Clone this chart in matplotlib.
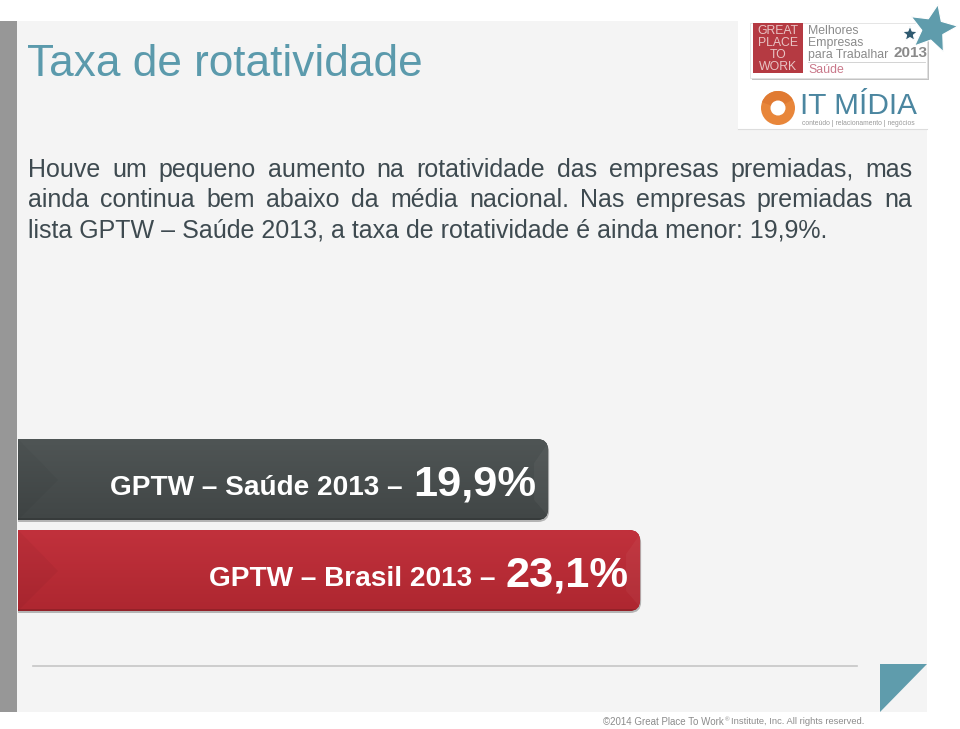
import numpy as np
import matplotlib
matplotlib.use('Agg')
import matplotlib.pyplot as plt
from matplotlib.patches import Rectangle, Polygon, PathPatch, Circle, Wedge
from matplotlib.path import Path

plt.rcParams['font.family'] = ['Liberation Sans', 'DejaVu Sans']

# Dados do gráfico
rotulos = ['GPTW – Saúde 2013 –', 'GPTW – Brasil 2013 –']
valores = [19.9, 23.1]
valores_txt = ['19,9%', '23,1%']
cores_topo = ['#4f5555', '#c1313c']
cores_base = ['#414646', '#ae2730']

titulo = 'Taxa de rotatividade'
linhas = ['Houve um pequeno aumento na rotatividade das empresas premiadas, mas',
          'ainda continua bem abaixo da média nacional. Nas empresas premiadas na',
          'lista GPTW – Saúde 2013, a taxa de rotatividade é ainda menor: 19,9%.']

W, H = 960, 729
fig = plt.figure(figsize=(W / 100, H / 100), dpi=100, facecolor='white')

# Eixo de fundo em pixels
ax = fig.add_axes([0, 0, 1, 1])
ax.set_xlim(0, W)
ax.set_ylim(H, 0)
ax.axis('off')

ax.add_patch(Rectangle((17, 21), 910, 691, fc='#f4f4f4', ec='none'))
ax.add_patch(Rectangle((0, 21), 17, 691, fc='#979797', ec='none'))
ax.plot([33, 857], [665.5, 665.5], color='#c6c6c6', lw=1.2)
ax.add_patch(Polygon([(880, 664), (927, 664), (880, 712)], fc='#5f9cac', ec='none'))

ax.text(27, 64, titulo, fontsize=31.8, color='#5b9aac', va='center', ha='left')

# Texto justificado
fig.canvas.draw()
rend = fig.canvas.get_renderer()


def largura(s, fs):
    t = ax.text(0, 0, s, fontsize=fs)
    w = t.get_window_extent(rend).width
    t.remove()
    return w


fs_corpo = 18
ys = [170, 200, 230]
for i, linha in enumerate(linhas):
    if i < 2:
        palavras = linha.split(' ')
        tam = [largura(p, fs_corpo) for p in palavras]
        gap = (912.5 - 28 - sum(tam)) / (len(palavras) - 1)
        x = 28
        for p, w in zip(palavras, tam):
            ax.text(x, ys[i], p, fontsize=fs_corpo, color='#3e4a50', va='center', ha='left')
            x += w + gap
    else:
        ax.text(28, ys[i], linha, fontsize=fs_corpo, color='#3e4a50', va='center', ha='left')

# Logos
ax.add_patch(Rectangle((738, 19), 222, 110, fc='white', ec='none'))
ax.plot([738, 927], [128.5, 128.5], color='#dddddd', lw=0.8)
ax.add_patch(Rectangle((752, 26), 177, 54, fc='#aaaaaa', ec='none', alpha=0.7))
ax.add_patch(Rectangle((750, 23), 177, 55, fc='white', ec='#e0e0e0', lw=0.6))
ax.add_patch(Rectangle((753, 23), 50, 50, fc='#b53a42', ec='none'))
for txt, yy in zip(['GREAT', 'PLACE', 'TO', 'WORK'], [31, 43, 55, 67]):
    ax.text(778, yy, txt, fontsize=8.8, color='#e8c4c4', ha='center', va='center')
for txt, yy in zip(['Melhores', 'Empresas'], [31, 43]):
    ax.text(808, yy, txt, fontsize=8.8, color='#8a8a8a', ha='left', va='center')
ax.text(808, 55, 'para Trabalhar', fontsize=8.8, color='#8a8a8a', ha='left', va='center')
ax.text(893, 53, '2013', fontsize=11, color='#8a8a8a', ha='left', va='center', fontweight='bold')
ax.text(808, 70, 'Saúde', fontsize=8.8, color='#c9788a', ha='left', va='center')
ax.plot([808, 925], [62, 62], color='#cccccc', lw=0.6)


def estrela(cx, cy, r, cor, rot=0.2):
    ang = np.arange(10) * np.pi / 5 - np.pi / 2 + rot
    raio = np.where(np.arange(10) % 2 == 0, r, r * 0.45)
    return Polygon(np.c_[cx + raio * np.cos(ang), cy + raio * np.sin(ang)], fc=cor, ec='white', lw=0.8)


ax.add_patch(estrela(933, 29, 25, '#5f9cac'))
ax.add_patch(estrela(910, 34, 8, '#2f5a70', rot=0))

ax.add_patch(Circle((778, 108), 17, fc='#e8863a', ec='none'))
ax.add_patch(Wedge((778, 108), 17, 200, 330, fc='#e07a32', ec='none'))
ax.add_patch(Circle((778, 108), 7.5, fc='white', ec='none'))
ax.text(800, 106, 'IT MÍDIA', fontsize=21.4, color='#4b86a0', ha='left', va='center')
ax.text(802, 123, 'conteúdo | relacionamento | negócios', fontsize=4.9, color='#9a9a9a', ha='left', va='center')

# Rodapé
ax.text(603, 722, '©2014 Great Place To Work', fontsize=7, color='#8c8c8c', ha='left', va='center')
ax.text(725, 719.5, '®', fontsize=4.5, color='#8c8c8c', ha='left', va='center')
ax.text(731, 722, 'Institute, Inc. All rights reserved.', fontsize=6.75, color='#8c8c8c', ha='left', va='center')

# Barras: eixo próprio com escala em % (px = -24 + 28.75 * valor)
ax2 = fig.add_axes([0, 0, 1, 1], facecolor='none')
ax2.set_xlim(24 / 28.75, (W + 24) / 28.75)
ax2.set_ylim(H, 0)
ax2.axis('off')

inicio = 42 / 28.75
alt = 81
y_barras = [479.5, 570.5]
barras = ax2.barh(y_barras, [v - inicio for v in valores], left=inicio, height=alt,
                  color=cores_base, zorder=2)


def contorno(x0, x1, y0, y1, r=11):
    verts = [(x0, y0), (x1 - r, y0), (x1, y0), (x1, y0 + r), (x1, y1 - r), (x1, y1), (x1 - r, y1), (x0, y1), (x0, y0)]
    cods = [Path.MOVETO, Path.LINETO, Path.CURVE3, Path.CURVE3, Path.LINETO, Path.CURVE3, Path.CURVE3, Path.LINETO, Path.CLOSEPOLY]
    return Path(verts, cods)


for i, bar in enumerate(barras):
    x1 = ax2.transData.transform((bar.get_x() + bar.get_width(), 0))[0]
    y0 = y_barras[i] - alt / 2
    y1 = y_barras[i] + alt / 2
    caminho = contorno(18, x1, y0, y1)

    # sombra
    ax.add_patch(PathPatch(contorno(18, x1 + 1, y0 + 2, y1 + 2), fc='#8a8a8a', ec='none', alpha=0.6))

    forma = PathPatch(caminho, fc='none', ec='none', transform=ax.transData)
    ax2.add_patch(forma)
    bar.set_clip_path(forma)

    # gradiente vertical
    c0 = np.array(matplotlib.colors.to_rgb(cores_topo[i]))
    c1 = np.array(matplotlib.colors.to_rgb(cores_base[i]))
    f = np.linspace(0, 1, 81)[:, None, None]
    grad = c0 * (1 - f) + c1 * f
    ext_x = [ax2.transData.inverted().transform((p, 0))[0] for p in (18, x1)]
    im = ax2.imshow(grad, aspect='auto', extent=[ext_x[0], ext_x[1], y1, y0], zorder=3)
    im.set_clip_path(forma)
    ax2.set_xlim(24 / 28.75, (W + 24) / 28.75)
    ax2.set_ylim(H, 0)

    # chanfros
    for pts, cor, a in [([(18, y0), (58, y1 - 40), (18, y1)], 'black', 0.035),
                        ([(x1, y0 + 4), (x1, y1 - 4), (x1 - 14, y1 - 20), (x1 - 14, y0 + 24)], 'white', 0.04),
                        ([(18, y1 - 2), (x1, y1 - 2), (x1, y1), (18, y1)], 'black', 0.15)]:
        pol = Polygon(pts, fc=cor, ec='none', alpha=a, transform=ax.transData, zorder=4)
        ax2.add_patch(pol)
        pol.set_clip_path(forma)

    # rótulos
    x_val = x1 - 12
    t = ax2.text(ax2.transData.inverted().transform((x_val, 0))[0], y_barras[i] + 5, valores_txt[i],
                 fontsize=31.2, fontweight='bold', color='white', ha='right', va='center', zorder=5)
    x_esq = t.get_window_extent(rend).x0
    ax2.text(ax2.transData.inverted().transform((x_esq - 10, 0))[0], y_barras[i] + 8, rotulos[i],
             fontsize=20.2, fontweight='bold', color='white', ha='right', va='center', zorder=5)

fig.savefig('out.png', dpi=100, facecolor='white')
